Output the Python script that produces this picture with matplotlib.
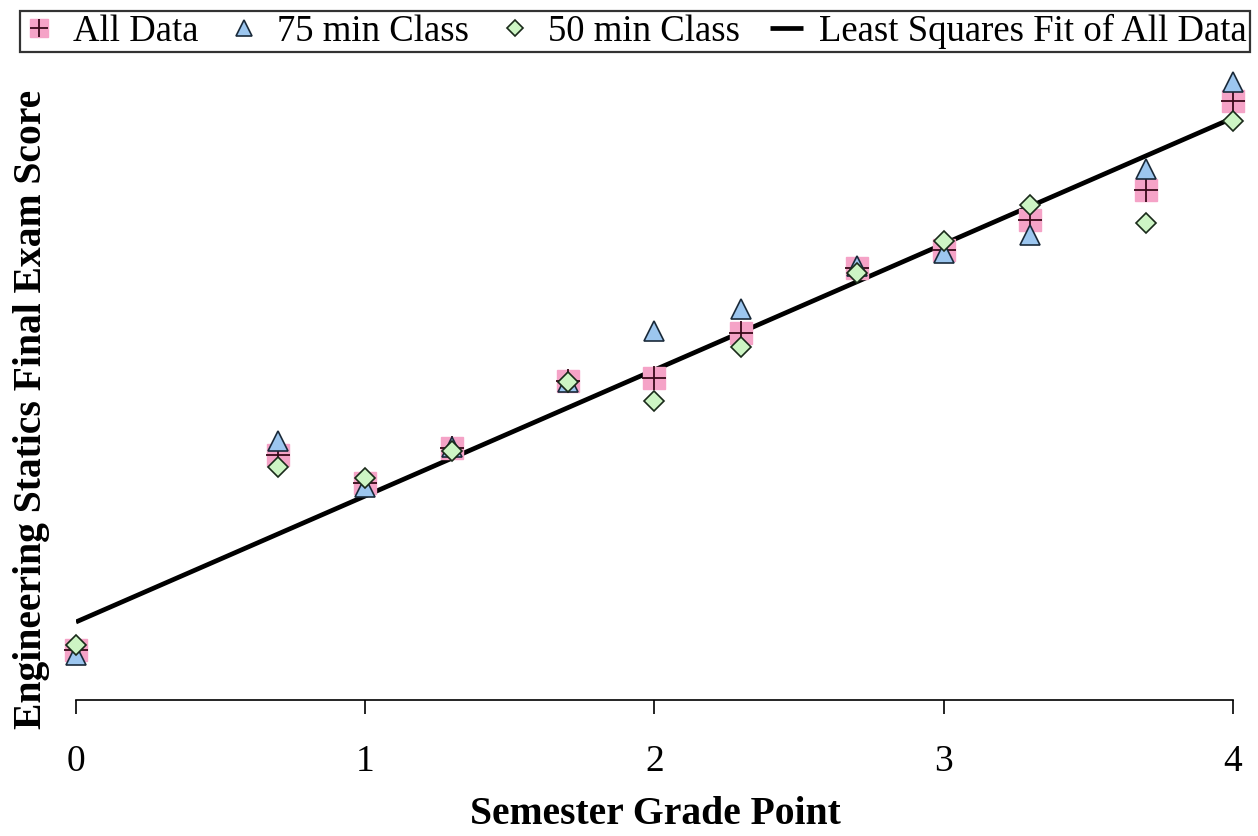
import matplotlib
matplotlib.use("Agg")
import matplotlib.pyplot as plt

# grade points
grade = [0, 0.7, 1, 1.3, 1.7, 2, 2.3, 2.7, 3, 3.3, 3.7, 4]

# final exam score (arbitrary scale)
all_data = [45.0, 64.5, 61.7, 65.2, 71.9, 72.2, 76.7, 83.2, 85.0, 88.0, 91.0, 99.9]
class_75 = [44.5, 65.9, 61.3, 65.3, 71.8, 76.9, 79.1, 83.4, 84.7, 86.5, 93.1, 101.8]
class_50 = [45.5, 63.3, 62.2, 64.9, 71.8, 69.9, 75.3, 82.7, 85.9, 89.5, 87.7, 97.9]

# least squares fit endpoints
fit_x = [0, 4]
fit_y = [47.8, 98.2]

plt.rcParams['font.family'] = ['Liberation Serif', 'DejaVu Serif']

fig = plt.figure(figsize=(12.58, 8.36), dpi=100)
ax = fig.add_axes([0.0604, 0.1627, 0.9197, 0.7656])

ln, = ax.plot(fit_x, fit_y, color="black", lw=3.4, zorder=2, solid_capstyle="butt")
sq, = ax.plot(grade, all_data, ls="none", marker="s", ms=16.5, mfc="#f5a3c7",
              mec="#f5a3c7", zorder=3, clip_on=False)
pl, = ax.plot(grade, all_data, ls="none", marker="+", ms=17, mec="#3a0a1a",
              mew=1.3, zorder=4, clip_on=False)
tri, = ax.plot(grade, class_75, ls="none", marker="^", ms=14.5, mfc="#9cc6ef",
               mec="#1a2a3a", mew=1.2, zorder=5, clip_on=False)
dia, = ax.plot(grade, class_50, ls="none", marker="D", ms=10.5, mfc="#cdf5c4",
               mec="#1a2a1a", mew=1.2, zorder=6, clip_on=False)

ax.set_xlim(0, 4)
ax.set_ylim(40, 104)
ax.set_xticks([0, 1, 2, 3, 4])
ax.set_yticks([])
for s in ["top", "right", "left"]:
    ax.spines[s].set_visible(False)
ax.spines["bottom"].set_linewidth(1.2)
ax.tick_params(axis="x", direction="out", length=10, width=1.2, labelsize=27, pad=22)

fig.text(0.521, 0.014, "Semester Grade Point", fontsize=28.5, fontweight="bold",
         ha="center", va="baseline")
fig.text(0.025, 0.51, "Engineering Statics Final Exam Score", rotation=90,
         fontsize=28.5, fontweight="bold", ha="center", va="center")

leg = fig.legend([(sq, pl), tri, dia, ln],
                 ["All Data", "75 min Class", "50 min Class", "Least Squares Fit of All Data"],
                 loc="upper center", bbox_to_anchor=(0.5048, 0.987), ncol=4,
                 fontsize=26.5, frameon=True, fancybox=False, edgecolor="black",
                 borderpad=0.08, handlelength=0.9, handletextpad=0.45, columnspacing=0.8,
                 borderaxespad=0, markerscale=0.75)
leg.get_frame().set_linewidth(1.6)

fig.savefig("out.png", dpi=100)
